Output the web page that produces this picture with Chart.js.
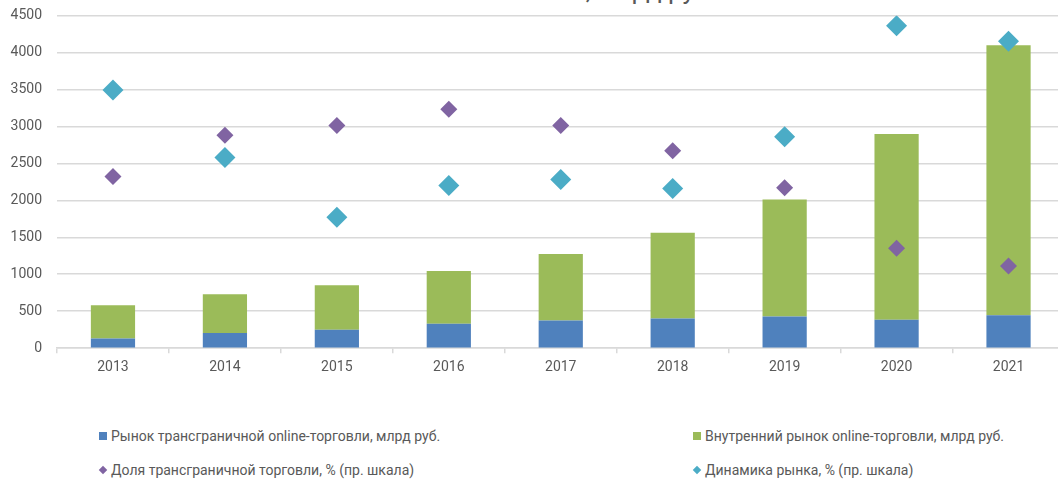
<!DOCTYPE html>
<html>
<head>
<meta charset="utf-8">
<script src="https://cdn.jsdelivr.net/npm/chart.js@4.4.0/dist/chart.umd.min.js"></script>
<style>
  html, body { margin: 0; padding: 0; background: #fff; overflow: hidden; }
  body { width: 1058px; height: 481px; position: relative; font-family: Roboto, sans-serif; }
  #title { position: absolute; top: -25px; left: 0; width: 1070px; text-align: center; font-size: 26px; color: #595959; white-space: nowrap; }
  #marketChart { position: absolute; left: 0; top: -8px; }
  .leg { position: absolute; font-size: 14px; color: #595959; white-space: nowrap; line-height: 16px; }
  .sq { display: inline-block; width: 8px; height: 8px; margin-right: 4px; vertical-align: 1px; }
  .dm { display: inline-block; width: 6px; height: 6px; margin: 0 5px 0 1px; transform: rotate(45deg); vertical-align: 2px; }
</style>
</head>
<body>
<div id="title">Рынок e-commerce, млрд руб.</div>
<canvas id="marketChart" width="1075" height="390"></canvas>
<div id="legend"></div>
<script>
const years = ['2013', '2014', '2015', '2016', '2017', '2018', '2019', '2020', '2021'];
const crossBorder = [130, 205, 250, 330, 375, 400, 430, 385, 445];
const domestic = [450, 525, 600, 715, 900, 1160, 1580, 2510, 3650];
const crossShare = [23.2, 28.8, 30.1, 32.3, 30.1, 26.7, 21.7, 13.5, 11.1];
const marketGrowth = [34.9, 25.8, 17.7, 22.0, 22.8, 21.6, 28.6, 43.6, 41.5];
const leftTicks = [0, 500, 1000, 1500, 2000, 2500, 3000, 3500, 4000, 4500];

const labels = [
  'Рынок трансграничной online-торговли, млрд руб.',
  'Внутренний рынок online-торговли, млрд руб.',
  'Доля трансграничной торговли, % (пр. шкала)',
  'Динамика рынка, % (пр. шкала)'
];
const colors = ['#4f81bd', '#9bbb59', '#8064a2', '#4bacc6'];

const ctx = document.getElementById('marketChart').getContext('2d');
new Chart(ctx, {
  type: 'bar',
  data: {
    labels: years,
    datasets: [
      { label: labels[2], type: 'line', data: crossShare, yAxisID: 'y1', showLine: false,
        pointStyle: 'rectRot', pointRadius: 8.5, pointHoverRadius: 8.5, pointBorderWidth: 0,
        backgroundColor: colors[2], borderColor: colors[2], order: 0 },
      { label: labels[3], type: 'line', data: marketGrowth, yAxisID: 'y1', showLine: false,
        pointStyle: 'rectRot', pointRadius: 10.5, pointHoverRadius: 10.5, pointBorderWidth: 0,
        backgroundColor: colors[3], borderColor: colors[3], order: 0 },
      { label: labels[0], data: crossBorder, backgroundColor: colors[0], yAxisID: 'y', order: 1,
        barPercentage: 0.395, categoryPercentage: 1 },
      { label: labels[1], data: domestic, backgroundColor: colors[1], yAxisID: 'y', order: 1,
        barPercentage: 0.395, categoryPercentage: 1 }
    ]
  },
  options: {
    responsive: false,
    animation: false,
    layout: { padding: { left: 0, right: 1, top: 0, bottom: 0 } },
    plugins: { legend: { display: false }, tooltip: { enabled: false }, title: { display: false } },
    scales: {
      x: {
        stacked: true,
        grid: { display: true, drawOnChartArea: false, offset: true, color: '#d9d9d9', lineWidth: 1.5, tickLength: 5 },
        border: { display: true, color: '#d9d9d9', width: 1.5 },
        ticks: { color: '#595959', font: { family: 'Roboto', size: 14 }, padding: 6 }
      },
      y: {
        stacked: true,
        min: 0, max: 4500,
        afterBuildTicks: (axis) => { axis.ticks = leftTicks.map(v => ({ value: v })); },
        afterFit: (axis) => { axis.width = 57; },
        grid: { color: '#d9d9d9', lineWidth: 1.5, drawTicks: false },
        border: { display: false },
        ticks: { color: '#595959', font: { family: 'Roboto', size: 14 }, padding: 15,
          callback: (v) => String(v) }
      },
      y1: {
        display: false,
        position: 'right',
        min: 0, max: 45
      }
    }
  }
});

// legend in two columns, as in the source
const legPos = [[99, 428], [693, 428], [99, 462], [693, 462]];
const legend = document.getElementById('legend');
labels.forEach((txt, i) => {
  const d = document.createElement('div');
  d.className = 'leg';
  d.style.left = legPos[i][0] + 'px';
  d.style.top = legPos[i][1] + 'px';
  const m = document.createElement('span');
  m.className = i < 2 ? 'sq' : 'dm';
  m.style.background = colors[i];
  d.appendChild(m);
  d.appendChild(document.createTextNode(txt));
  legend.appendChild(d);
});
</script>
</body>
</html>
